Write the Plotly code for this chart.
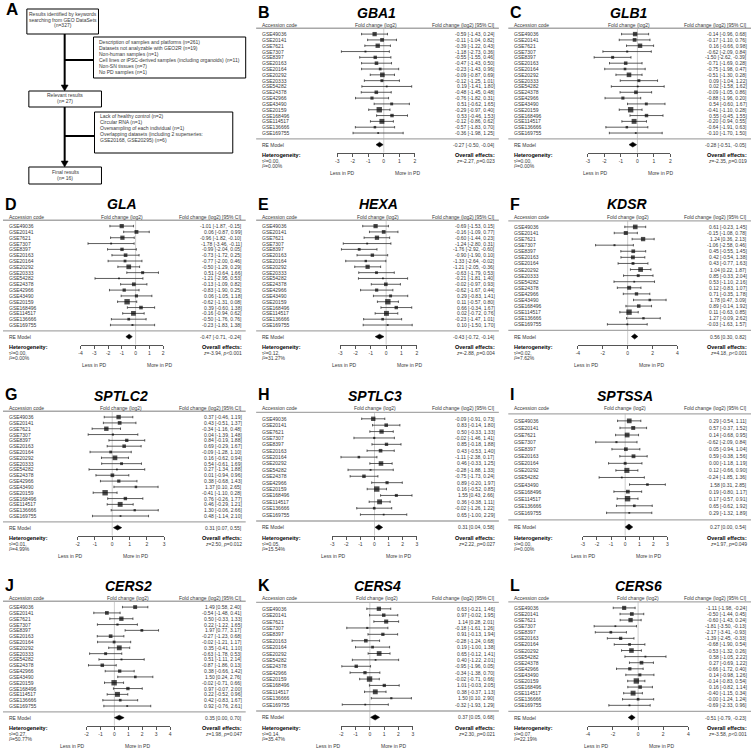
import plotly.graph_objects as go
import numpy as np

# ---------------- DATA ----------------
ACC_18 = ["GSE49036", "GSE20141", "GSE7621", "GSE7307", "GSE8397", "GSE20163", "GSE20164",
          "GSE20292", "GSE20333", "GSE54282", "GSE24378", "GSE42966", "GSE43490", "GSE20159",
          "GSE168496", "GSE114517", "GSE136666", "GSE169755"]
ACC_KDSR = [a for a in ACC_18 if a != "GSE20159"]
ACC_CERS6 = [a for a in ACC_18 if a != "GSE20333"]
ACC_16 = [a for a in ACC_18 if a not in ("GSE20333", "GSE43490")]
ACC_SPTSSA = [a for a in ACC_18 if a not in ("GSE20333", "GSE24378", "GSE42966", "GSE20159")]

GBA1_est = [-0.59, -0.11, -0.39, -1.18, -0.55, -0.47, -0.23, -0.09, -0.12, 0.19, -0.48, -0.76, 0.51, -0.29, 0.53, -0.12, -0.57, -0.36]
GBA1_lo = [-1.43, -1.04, -1.22, -2.73, -1.55, -1.43, -1.43, -0.87, -1.25, -1.41, -1.45, -1.82, -0.62, -0.97, -0.46, -0.86, -1.83, -1.98]
GBA1_hi = [0.24, 0.82, 0.43, 0.36, 0.46, 0.50, 0.96, 0.69, 1.01, 1.80, 0.48, 0.31, 1.65, 0.40, 1.53, 0.62, 0.70, 1.25]

GLB1_est = [-0.14, -0.17, 0.16, -0.62, -1.50, -0.71, -0.75, -0.51, 0.09, 0.02, -0.09, -0.88, 0.54, -0.41, 0.55, -0.20, -0.64, -0.10]
GLB1_lo = [-0.96, -1.10, -0.66, -2.09, -2.62, -1.69, -1.98, -1.30, -1.04, -1.58, -1.05, -1.96, -0.60, -1.10, -0.45, -0.94, -1.91, -1.70]
GLB1_hi = [0.68, 0.76, 0.98, 0.84, -0.39, 0.28, 0.47, 0.28, 1.22, 1.62, 0.86, 0.20, 1.67, 0.28, 1.55, 0.55, 0.63, 1.50]

GLA_est = [-1.01, 0.06, -0.96, -1.78, -0.99, -0.73, -0.77, -0.50, 0.51, -1.21, -0.13, -0.83, 0.06, -0.62, 0.39, -0.16, -0.50, -0.23]
GLA_lo = [-1.87, -0.87, -1.82, -3.46, -2.04, -1.72, -2.00, -1.29, -0.64, -2.95, -1.09, -1.90, -1.05, -1.31, -0.60, -0.94, -1.76, -1.83]
GLA_hi = [-0.15, 0.99, -0.10, -0.11, 0.05, 0.25, 0.46, 0.29, 1.66, 0.53, 0.82, 0.25, 1.18, 0.08, 1.38, 0.62, 0.76, 1.38]

HEXA_est = [-0.69, -0.16, -0.60, -1.24, -1.76, -0.90, -1.33, -1.21, -0.63, -0.21, -0.02, -0.62, 0.29, 0.11, 0.66, 0.02, -0.23, 0.10]
HEXA_lo = [-1.53, -1.09, -1.44, -2.80, -2.92, -1.90, -2.64, -2.05, -1.79, -1.81, -0.97, -1.67, -0.83, -0.57, -0.34, -0.72, -1.47, -1.50]
HEXA_hi = [0.15, 0.77, 0.23, 0.31, -0.60, 0.10, -0.02, -0.36, 0.53, 1.40, 0.93, 0.44, 1.41, 0.80, 1.67, 0.76, 1.01, 1.70]

KDSR_est = [0.61, -0.15, 1.24, -1.06, 0.45, 0.42, 0.43, 1.04, 0.85, 0.53, 0.12, 0.71, 1.78, 0.89, 0.11, 1.27, -0.03]
KDSR_lo = [-0.23, -1.08, 0.36, -2.58, -0.55, -0.54, -0.77, 0.22, -0.33, -1.10, -0.83, -0.35, 0.47, -0.14, -0.63, -0.09, -1.63]
KDSR_hi = [1.45, 0.78, 2.13, 0.46, 1.45, 1.38, 1.63, 1.87, 2.04, 2.16, 1.07, 1.78, 3.09, 1.92, 0.85, 2.62, 1.57]

SPTLC2_est = [0.37, 0.43, -0.34, 0.04, 0.84, 0.69, -0.09, 0.16, 0.54, 0.27, 0.01, 0.38, 1.37, -0.41, 0.76, 0.46, 1.30, 0.48]
SPTLC2_lo = [-0.46, -0.51, -1.16, -1.39, -0.19, -0.29, -1.28, -0.62, -0.61, -1.34, -0.94, -0.68, 0.10, -1.10, -0.26, -0.29, -0.06, -1.14]
SPTLC2_hi = [1.19, 1.37, 0.48, 1.48, 1.88, 1.67, 1.10, 0.94, 1.69, 1.88, 0.96, 1.43, 2.65, 0.28, 1.77, 1.21, 2.66, 2.10]

SPTLC3_est = [-0.09, 0.83, 0.50, -0.02, 0.85, 0.43, -1.11, 0.46, -0.28, -0.75, 0.89, 0.16, 1.55, 0.36, -0.02, 0.65]
SPTLC3_lo = [-0.91, -0.14, -0.33, -1.46, -0.18, -0.53, -2.38, -0.33, -1.88, -1.73, -0.20, -0.52, 0.43, -0.38, -1.26, -1.00]
SPTLC3_hi = [0.73, 1.80, 1.33, 1.41, 1.88, 1.40, 0.17, 1.25, 1.33, 0.24, 1.97, 0.85, 2.66, 1.11, 1.22, 2.29]

SPTSSA_est = [0.29, 0.57, 0.14, -0.62, 0.05, 0.59, 0.00, 0.12, -0.24, 1.58, 0.19, 0.17, 0.65, 0.29]
SPTSSA_lo = [-0.54, -0.37, -0.68, -2.09, -0.94, -0.38, -1.18, -0.66, -1.85, 0.31, -0.80, -0.57, -0.62, -1.32]
SPTSSA_hi = [1.11, 1.52, 0.95, 0.84, 1.04, 1.56, 1.19, 0.90, 1.36, 2.85, 1.17, 0.91, 1.92, 1.89]

CERS2_est = [1.49, -0.54, 0.50, 0.22, 1.97, -0.27, -0.02, 0.35, -0.63, 0.51, -0.87, 0.38, 1.50, -0.02, 0.97, 0.22, 0.42, 0.92]
CERS2_lo = [0.58, -1.48, -0.33, -1.22, 0.77, -1.23, -1.21, -0.41, -1.78, -1.11, -1.86, -0.66, 0.24, -0.71, -0.07, -0.52, -0.83, -0.76]
CERS2_hi = [2.40, 0.41, 1.33, 1.65, 3.17, 0.68, 1.17, 1.10, 0.53, 2.14, 0.13, 1.42, 2.76, 0.66, 2.00, 0.96, 1.67, 2.61]

CERS4_est = [0.63, 0.97, 1.14, -0.18, 0.91, -0.28, 0.19, 0.65, 0.40, -0.95, -0.34, -0.02, 1.01, 0.38, 1.50, -0.32]
CERS4_lo = [-0.21, -0.02, 0.28, -1.61, -0.13, -1.24, -1.00, -0.12, -1.22, -1.96, -1.38, -0.71, -0.03, -0.37, 0.10, -1.93]
CERS4_hi = [1.46, 1.95, 2.01, 1.26, 1.94, 0.68, 1.38, 1.41, 2.01, 0.05, 0.70, 0.66, 2.05, 1.13, 2.90, 1.29]

CERS6_est = [-1.11, -0.50, -0.60, -1.81, -2.17, -1.39, -0.68, -0.53, 0.58, 0.27, -0.66, 0.14, -0.14, 0.16, -0.40, -0.0, -0.69]
CERS6_lo = [-1.98, -1.44, -1.43, -3.50, -3.41, -2.45, -1.90, -1.32, -1.05, -0.69, -1.72, -0.98, -0.83, -0.82, -1.15, -1.24, -2.33]
CERS6_hi = [-0.24, 0.45, 0.24, -0.13, -0.93, -0.33, 0.54, 0.26, 2.22, 1.22, 0.40, 1.26, 0.54, 1.14, 0.34, 1.24, 0.96]

# summary: [estimate, lower, upper]
RE_SUMMARY = {
    "GBA1": [-0.27, -0.50, -0.04], "GLB1": [-0.28, -0.51, -0.05], "GLA": [-0.47, -0.71, -0.24],
    "HEXA": [-0.43, -0.72, -0.14], "KDSR": [0.56, 0.30, 0.82], "SPTLC2": [0.31, 0.07, 0.55],
    "SPTLC3": [0.31, 0.04, 0.58], "SPTSSA": [0.27, 0.00, 0.54], "CERS2": [0.35, 0.00, 0.70],
    "CERS4": [0.37, 0.05, 0.68], "CERS6": [-0.51, -0.79, -0.23],
}
TAU2 = {"GBA1": "0.00", "GLB1": "0.00", "GLA": "0.00", "HEXA": "0.12", "KDSR": "0.02", "SPTLC2": "0.01",
        "SPTLC3": "0.05", "SPTSSA": "0.00", "CERS2": "0.27", "CERS4": "0.14", "CERS6": "0.07"}
I2 = {"GBA1": "0.00", "GLB1": "0.00", "GLA": "0.00", "HEXA": "31.27", "KDSR": "7.62", "SPTLC2": "4.99",
      "SPTLC3": "15.54", "SPTSSA": "0.00", "CERS2": "50.77", "CERS4": "35.47", "CERS6": "22.19"}
ZVAL = {"GBA1": "-2.27", "GLB1": "-2.35", "GLA": "-3.94", "HEXA": "-2.88", "KDSR": "4.18", "SPTLC2": "2.50",
        "SPTLC3": "2.22", "SPTSSA": "1.97", "CERS2": "1.98", "CERS4": "2.30", "CERS6": "-3.58"}
PVAL = {"GBA1": "=0.023", "GLB1": "=0.019", "GLA": "&lt;0.001", "HEXA": "=0.004", "KDSR": "&lt;0.001",
        "SPTLC2": "=0.012", "SPTLC3": "=0.027", "SPTSSA": "=0.049", "CERS2": "=0.047", "CERS4": "=0.021",
        "CERS6": "&lt;0.001"}
TICKS = {"GBA1": [-3, -2, -1, 0, 1, 2], "GLB1": [-3, -2, -1, 0, 1, 2], "GLA": [-4, -3, -2, -1, 0, 1, 2],
         "HEXA": [-3, -2, -1, 0, 1, 2], "KDSR": [-4, -2, 0, 2, 4], "SPTLC2": [-2, -1, 0, 1, 2, 3],
         "SPTLC3": [-3, -2, -1, 0, 1, 2, 3], "SPTSSA": [-3, -2, -1, 0, 1, 2, 3], "CERS2": [-2, -1, 0, 1, 2, 3, 4],
         "CERS4": [-2, -1, 0, 1, 2, 3], "CERS6": [-4, -2, 0, 2, 4]}

FLOW_BOX1 = ["Results identified by keywords", "searching from GEO DataSets", "(n=327)"]
FLOW_EXCL1 = ["Description of samples and platforms (n=261)", "Datasets not analyzable with GEO2R (n=19)",
              "Non-human samples (n=1)", "Cell lines or iPSC-derived samples (including organoids) (n=11)",
              "Non-SN tissues (n=7)", "No PD samples (n=1)"]
FLOW_BOX2 = ["Relevant results", "(n= 27)"]
FLOW_EXCL2 = ["Lack of healthy control (n=2)", "Circular RNA (n=1)", "Oversampling of each individual (n=1)",
              "Overlapping datasets (including 2 superseries:", "GSE20168, GSE20295) (n=6)"]
FLOW_BOX3 = ["Final results", "(n= 16)"]

# -------------- LAYOUT --------------
W, H = 754, 750
def px(x): return x / W
def py(y): return 1 - y / H

FONT = "Arial, 'Liberation Sans', Helvetica, sans-serif"
TXT = "#383838"
COL_TL = [5, 259.5, 513]
ROW_OFF = [0, 192, 383, 573]

# (gene, letter, col, row, accessions, est, lo, hi, axis pixel extent)
PANELS = [
    ("GBA1", "B", 1, 0, ACC_18, GBA1_est, GBA1_lo, GBA1_hi, (337, 415)),
    ("GLB1", "C", 2, 0, ACC_18, GLB1_est, GLB1_lo, GLB1_hi, (589, 672)),
    ("GLA", "D", 0, 1, ACC_18, GLA_est, GLA_lo, GLA_hi, (79, 162)),
    ("HEXA", "E", 1, 1, ACC_18, HEXA_est, HEXA_lo, HEXA_hi, (340, 417)),
    ("KDSR", "F", 2, 1, ACC_KDSR, KDSR_est, KDSR_lo, KDSR_hi, (579, 679)),
    ("SPTLC2", "G", 0, 2, ACC_18, SPTLC2_est, SPTLC2_lo, SPTLC2_hi, (76, 163)),
    ("SPTLC3", "H", 1, 2, ACC_16, SPTLC3_est, SPTLC3_lo, SPTLC3_hi, (332, 417)),
    ("SPTSSA", "I", 2, 2, ACC_SPTSSA, SPTSSA_est, SPTSSA_lo, SPTSSA_hi, (584, 669)),
    ("CERS2", "J", 0, 3, ACC_18, CERS2_est, CERS2_lo, CERS2_hi, (85, 169)),
    ("CERS4", "K", 1, 3, ACC_16, CERS4_est, CERS4_lo, CERS4_hi, (341, 413)),
    ("CERS6", "L", 2, 3, ACC_CERS6, CERS6_est, CERS6_lo, CERS6_hi, (589, 690)),
]

fig = go.Figure()
shapes, annotations, axes = [], [], {}

def ann(text, x, y, xanchor="left", yanchor="middle", size=5, xref="paper", yref="paper", color=TXT, **kw):
    annotations.append(dict(text=text, x=x, y=y, xref=xref, yref=yref, xanchor=xanchor, yanchor=yanchor,
                            showarrow=False, font=dict(size=size, color=color, family=FONT), **kw))

def fmt(e, l, h):
    return f"{e:.2f} [{l:.2f}, {h:.2f}]"

for idx, (gene, letter, col, row, acc, est, lo, hi, axpx) in enumerate(PANELS):
    n = idx + 1
    xid = "x" if n == 1 else f"x{n}"
    yid = "y" if n == 1 else f"y{n}"
    TL = COL_TL[col]
    TR = TL + 238
    O = ROW_OFF[row]
    k = len(acc)
    est, lo, hi = np.array(est), np.array(lo), np.array(hi)
    R = k + 4.5
    ylo, yhi = -1.5 - 0.04 * R, k + 3 + 0.04 * R
    ticks = TICKS[gene]
    axes["xaxis" if n == 1 else f"xaxis{n}"] = dict(
        domain=[px(axpx[0]), px(axpx[1])], range=[ticks[0], ticks[-1]], anchor=yid,
        tickmode="array", tickvals=ticks, ticktext=[str(t) for t in ticks],
        showline=True, linecolor="#555", linewidth=0.8, ticks="outside", ticklen=3, tickwidth=0.8,
        tickcolor="#555", tickfont=dict(size=5, color=TXT, family=FONT), showgrid=False, zeroline=False,
        fixedrange=True)
    axes["yaxis" if n == 1 else f"yaxis{n}"] = dict(
        domain=[py(O + 152.8), py(O + 11.4)], range=[ylo, yhi], anchor=xid, visible=False, fixedrange=True)

    yv = np.arange(k, 0, -1)
    wi = 1 / ((hi - lo) / 3.92)
    sz = 1.8 + 3.6 * (wi - wi.min()) / (wi.max() - wi.min())

    # reference line at 0
    shapes.append(dict(type="line", xref=xid, yref=yid, x0=0, x1=0, y0=ylo, y1=k + 1,
                       line=dict(color="#c8c8c8", width=0.9), layer="below"))
    # header & separator lines
    for yy in (k + 1, 0):
        shapes.append(dict(type="line", xref="paper", yref=yid, x0=px(TL - 4), x1=px(TR + 2), y0=yy, y1=yy,
                           line=dict(color="#a8a8a8", width=1.3)))

    fig.add_trace(go.Scatter(
        x=est, y=yv, xaxis=xid, yaxis=yid, mode="markers",
        marker=dict(symbol="square", size=sz, color="black", line=dict(width=0)),
        error_x=dict(type="data", symmetric=False, array=hi - est, arrayminus=est - lo,
                     color="#333", thickness=0.8, width=1.2),
        cliponaxis=False, showlegend=False, hoverinfo="skip"))

    re = RE_SUMMARY[gene]
    h = 0.42
    fig.add_trace(go.Scatter(
        x=[re[1], re[0], re[2], re[0], re[1]], y=[-1, -1 + h, -1, -1 - h, -1],
        xaxis=xid, yaxis=yid, mode="lines", fill="toself", fillcolor="black",
        line=dict(color="black", width=0.5), showlegend=False, hoverinfo="skip"))

    # row texts
    for a, e, l, hh, yy in zip(acc, est, lo, hi, yv):
        ann(a, px(TL), yy, yref=yid)
        ann(fmt(e, l, hh), px(TR), yy, xanchor="right", yref=yid)
    ann("Accession code", px(TL), py(O + 25))
    ann("Fold change (log2)", (px(axpx[0]) + px(axpx[1])) / 2, py(O + 25), xanchor="center")
    ann("Fold change (log2) [95% CI]", px(TR), py(O + 25), xanchor="right")
    ann("RE Model", px(TL), -1, yref=yid)
    ann(fmt(*re), px(TR), -1, xanchor="right", yref=yid)

    # title & letter
    ann(f"<b><i>{gene}</i></b>", (px(axpx[0]) + px(axpx[1])) / 2, py(O + 12.5), xanchor="center", size=14,
        color="black")
    ann(f"<b>{letter}</b>", px(TL - 4), py(O + 12), size=16, color="black")

    # bottom texts
    ann("<b>Heterogeneity:</b>", px(TL), py(O + 155.3), size=5.5, color="black")
    ann(f"τ²={TAU2[gene]},", px(TL), py(O + 160.7))
    ann(f"<i>I</i>²={I2[gene]}%", px(TL), py(O + 166))
    ann("<b>Overall effects:</b>", px(TR), py(O + 155.3), xanchor="right", size=5.5, color="black")
    ann(f"<i>z</i>={ZVAL[gene]}, <i>p</i>{PVAL[gene]}", px(TR), py(O + 160.7), xanchor="right")
    ann("Less in PD", 0, py(O + 172.7), xref=xid, xanchor="right", xshift=-27)
    ann("More in PD", 0, py(O + 172.7), xref=xid, xanchor="left", xshift=9)

# ---------------- Panel A: flowchart ----------------
ann("<b>A</b>", px(2), py(10), size=17, color="black")
boxes = [(25, 9, 97, 34), (92, 37, 245, 78), (27, 91, 100, 107), (93, 112, 232, 153), (27, 167, 100, 184)]
for (x0, y0, x1, y1) in boxes:
    shapes.append(dict(type="rect", xref="paper", yref="paper", x0=px(x0), x1=px(x1), y0=py(y0), y1=py(y1),
                       line=dict(color="black", width=1), fillcolor="white"))
for i, t in enumerate(FLOW_BOX1):
    ann(t, px(61), py(14 + 5.5 * i), xanchor="center")
for i, t in enumerate(FLOW_EXCL1):
    ann(t, px(96), py(41.7 + 6 * i))
for i, t in enumerate(FLOW_BOX2):
    ann(t, px(63.5), py(95 + 6.5 * i), xanchor="center")
for i, t in enumerate(FLOW_EXCL2):
    ann(t, px(97), py(116.5 + 5.9 * i))
for i, t in enumerate(FLOW_BOX3):
    ann(t, px(63.5), py(171.5 + 6.5 * i), xanchor="center")

# connectors: vertical arrows and side branches
for (yb, yt) in [(34, 91), (107, 167)]:
    shapes.append(dict(type="line", xref="paper", yref="paper", x0=px(63), x1=px(63), y0=py(yb), y1=py(yt - 5),
                       line=dict(color="black", width=2)))
    shapes.append(dict(type="path", xref="paper", yref="paper",
                       path=f"M {px(59.5)},{py(yt - 6)} L {px(66.5)},{py(yt - 6)} L {px(63)},{py(yt)} Z",
                       fillcolor="black", line=dict(color="black", width=0.5)))
for (yy, xr) in [(60, 92), (136, 93)]:
    shapes.append(dict(type="line", xref="paper", yref="paper", x0=px(63), x1=px(xr), y0=py(yy), y1=py(yy),
                       line=dict(color="black", width=2)))

fig.update_layout(
    width=W, height=H, margin=dict(l=0, r=0, t=0, b=0), paper_bgcolor="white", plot_bgcolor="white",
    font=dict(family=FONT, size=5, color=TXT), shapes=shapes, annotations=annotations, showlegend=False,
    **axes)

fig.write_html("out.html")
